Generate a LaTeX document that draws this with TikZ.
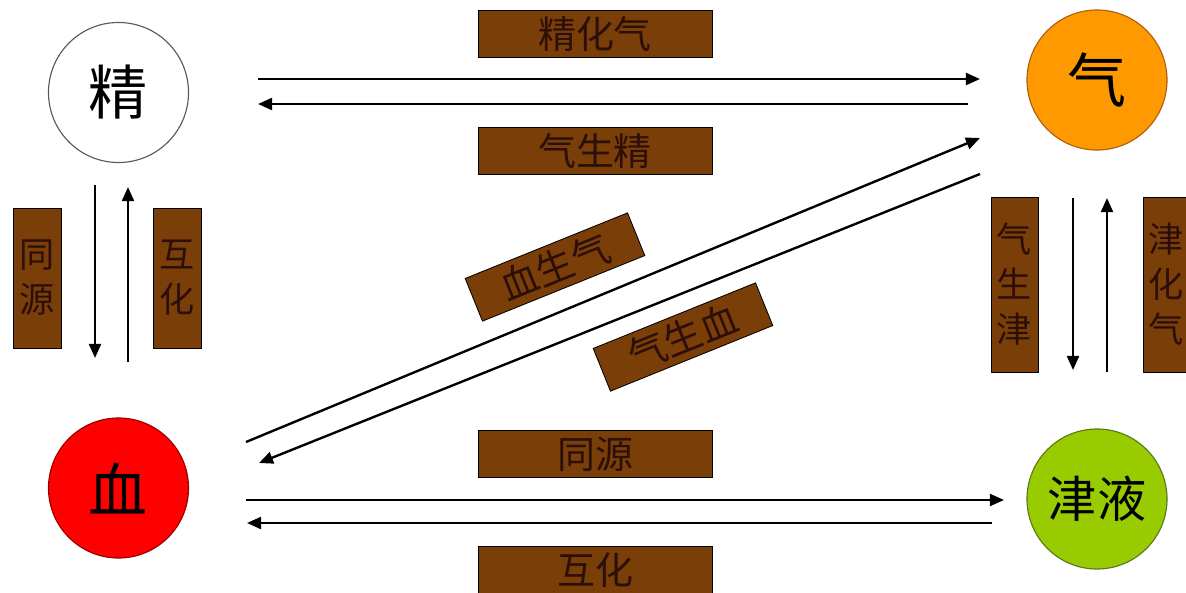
\documentclass[tikz,border=0pt]{standalone}
\usepackage{fontspec}
\newfontfamily\cjk{Noto Sans CJK SC}
\usetikzlibrary{arrows.meta}
\definecolor{boxbrown}{RGB}{122,62,8}
\definecolor{txtdark}{RGB}{45,15,10}
\definecolor{qiorange}{RGB}{255,153,0}
\definecolor{qiedge}{RGB}{170,95,20}
\definecolor{xuered}{RGB}{255,0,0}
\definecolor{xueedge}{RGB}{150,0,0}
\definecolor{jygreen}{RGB}{153,204,0}
\definecolor{jyedge}{RGB}{90,120,20}
\begin{document}
\begin{tikzpicture}[x=0.025cm,y=-0.025cm,
  circ/.style={circle, draw, line width=0.8pt, minimum size=3.5cm, inner sep=0pt,
    font=\cjk\fontsize{42}{42}\selectfont, text=black},
  lbl/.style={draw=black, line width=0.6pt, fill=boxbrown, text=txtdark, inner sep=0pt,
    font=\cjk\fontsize{27}{27}\selectfont},
  hlbl/.style={lbl, minimum width=5.85cm, minimum height=1.18cm},
  dlbl/.style={lbl, minimum width=4.375cm, minimum height=1.15cm, rotate=22},
  vlbl/.style={lbl, align=center, font=\cjk\fontsize{25}{32}\selectfont},
  arr/.style={line width=1.7pt, -{Triangle[length=10pt,width=8.5pt]}}]
\useasboundingbox (0,0) rectangle (1186,593);
\fill[white] (0,0) rectangle (1186,593);

% circles
\node[circ, draw=gray!70!black, fill=white] (jing) at (118.5,92.5) {精};
\node[circ, draw=qiedge, fill=qiorange] (qi) at (1097,80) {气};
\node[circ, draw=xueedge, fill=xuered] (xue) at (118.5,488) {血};
\node[circ, draw=jyedge, fill=jygreen, font=\cjk\fontsize{35}{35}\selectfont] (jy) at (1097,499) {津液};

% labels
\node[hlbl] (l1) at (595,34) {精化气};
\node[hlbl] (l2) at (595,151) {气生精};
\node[hlbl] (l3) at (595,454) {同源};
\node[hlbl] (l4) at (595,570) {互化};
\node[dlbl] (l5) at (555,267) {血生气};
\node[dlbl] (l6) at (683,337) {气生血};
\node[vlbl, minimum width=1.2cm, minimum height=3.5cm] (l7) at (37,278) {同\\源};
\node[vlbl, minimum width=1.2cm, minimum height=3.5cm] (l8) at (177,278) {互\\化};
\node[vlbl, minimum width=1.175cm, minimum height=4.375cm] (l9) at (1014.5,284.5) {气\\生\\津};
\node[vlbl, minimum width=1.175cm, minimum height=4.375cm] (l10) at (1166.5,284.5) {津\\化\\气};

% connector end points
\coordinate (a1s) at (258,79);   \coordinate (a1e) at (980,79);
\coordinate (a2s) at (968,104);  \coordinate (a2e) at (258,104);
\coordinate (a3s) at (95,185);   \coordinate (a3e) at (95,358);
\coordinate (a4s) at (128,362);  \coordinate (a4e) at (128,187);
\coordinate (a5s) at (1073,198); \coordinate (a5e) at (1073,370);
\coordinate (a6s) at (1107,372); \coordinate (a6e) at (1107,198);
\coordinate (a7s) at (246,442);  \coordinate (a7e) at (980,138);
\coordinate (a8s) at (980,174);  \coordinate (a8e) at (259,463);
\coordinate (a9s) at (246,500);  \coordinate (a9e) at (1004,500);
\coordinate (a10s) at (992,523); \coordinate (a10e) at (247,523);

\draw[arr] (a1s) -- (a1e);
\draw[arr] (a2s) -- (a2e);
\draw[arr] (a3s) -- (a3e);
\draw[arr] (a4s) -- (a4e);
\draw[arr] (a5s) -- (a5e);
\draw[arr] (a6s) -- (a6e);
\draw[arr] (a7s) -- (a7e);
\draw[arr] (a8s) -- (a8e);
\draw[arr] (a9s) -- (a9e);
\draw[arr] (a10s) -- (a10e);
\end{tikzpicture}
\end{document}
